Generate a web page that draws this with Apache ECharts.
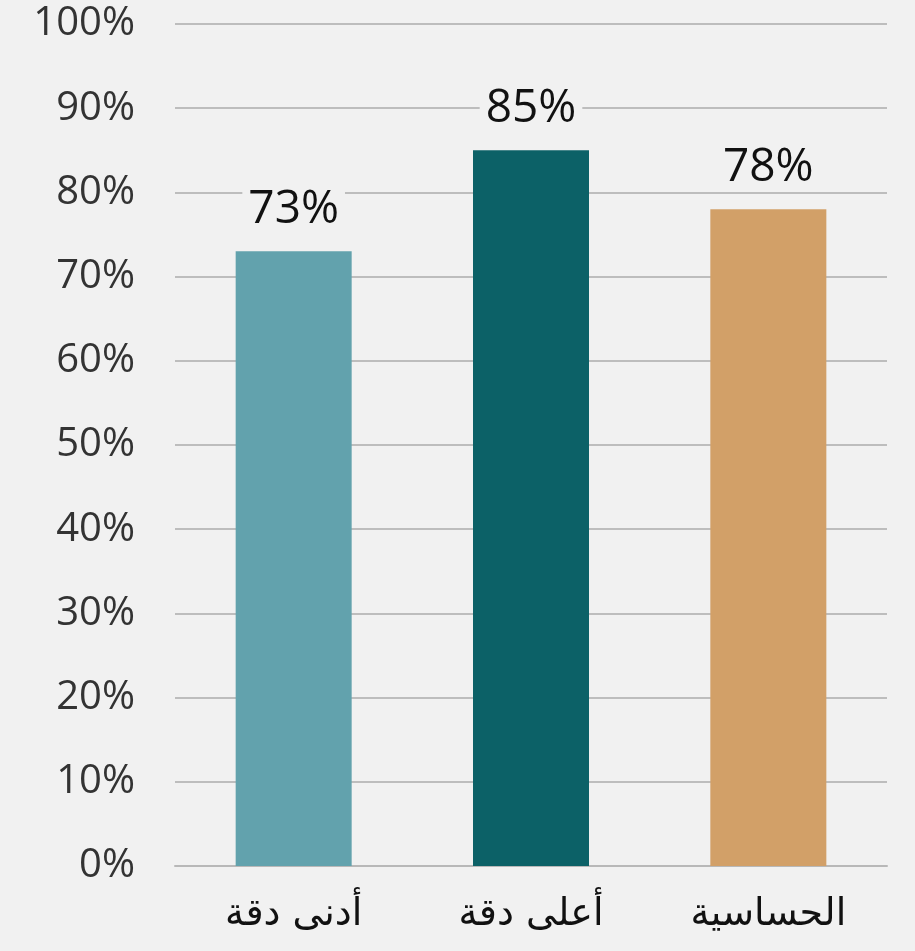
<!DOCTYPE html>
<html><head><meta charset="utf-8">
<script src="https://cdn.jsdelivr.net/npm/echarts@6/dist/echarts.min.js"></script>
<style>html,body{margin:0;padding:0;background:#f1f1f1;}#c{width:915px;height:951px;}</style>
</head><body><div id="c"></div>
<script>
const categories = ['أدنى دقة', 'أعلى دقة', 'الحساسية'];
const values = [73, 85, 78];
const colors = ['#62a2ad', '#0c6167', '#d2a068'];
const yTicks = [0, 10, 20, 30, 40, 50, 60, 70, 80, 90, 100];

const chart = echarts.init(document.getElementById('c'));
chart.setOption({
  backgroundColor: '#f1f1f1',
  animation: false,
  grid: { left: 175, right: 28, top: 24, bottom: 85 },
  xAxis: {
    type: 'category', data: categories,
    axisLine: { show: true, lineStyle: { color: '#b8b8b8', width: 2 } },
    axisTick: { show: false },
    axisLabel: { color: '#111', fontSize: 38, fontFamily: '"DejaVu Sans", "Noto Sans", sans-serif', margin: 30 }
  },
  yAxis: {
    type: 'value', min: 0, max: 100, interval: 10,
    axisLine: { show: false }, axisTick: { show: false },
    splitLine: { lineStyle: { color: '#bdbdbd', width: 2 } },
    axisLabel: { color: '#333', fontSize: 40, fontFamily: '"Open Sans", sans-serif', margin: 40, formatter: v => v + '%' }
  },
  series: [{
    type: 'bar', barWidth: 116,
    data: values.map((v, i) => ({ value: v, itemStyle: { color: colors[i] } })),
    label: {
      show: true, position: 'top', distance: 18,
      formatter: p => p.value + '%',
      color: '#111', fontSize: 46, fontFamily: '"Open Sans", sans-serif',
      backgroundColor: '#f1f1f1', padding: [0, 6]
    }
  }]
});
</script></body></html>
